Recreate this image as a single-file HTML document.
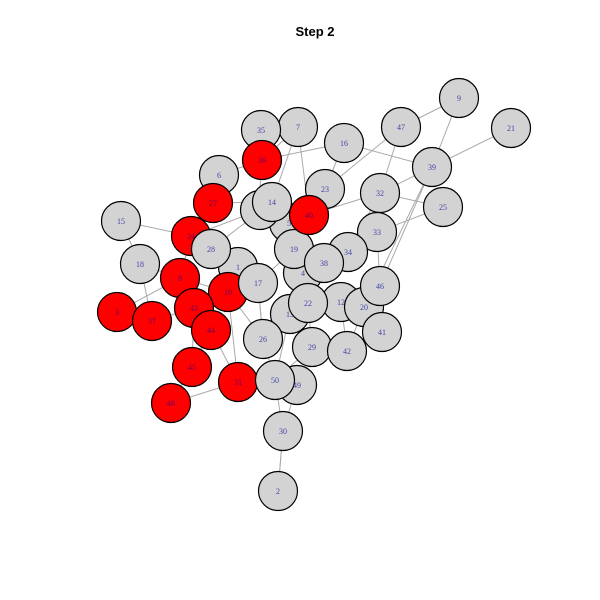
<!DOCTYPE html>
<html><head><meta charset="utf-8"><style>
html,body{margin:0;padding:0;background:#fff;}
svg{display:block;}
</style></head><body>
<svg id="chart" width="600" height="600" viewBox="0 0 600 600" xmlns="http://www.w3.org/2000/svg">
<text x="315" y="36" text-anchor="middle" font-family="Liberation Sans, sans-serif" font-weight="bold" font-size="13">Step 2</text>
<g id="edges"></g>
<g id="nodes"></g>
</svg>
<script>
const nodeIds = [1,2,3,4,5,6,7,8,9,10,11,12,13,14,15,16,17,18,19,20,21,22,23,24,25,26,27,28,29,30,31,32,33,34,35,36,37,38,39,40,41,42,43,44,45,46,47,48,49,50];
const nodeX = [238,278,117,303,289,219,298,180,459,228,260,341,290,272,121,344,258,140,294,364,511,308,325,191,443,263,213,211,312,283,238,380,377,348,261,262,152,324,432,309,382,347,194,211,192,380,401,171,297,275];
const nodeY = [267,491,312,273,223,175,127,278,98,292,210,302,314,202,221,143,283,264,249,307,128,303,189,236,207,339,203,249,347,431,382,193,232,252,130,160,321,263,167,215,332,351,308,330,367,286,127,403,385,380];
const infected = [36,27,24,8,3,37,43,44,45,48,31,10,40];
const edgeFrom = [9,9,21,47,47,16,16,16,39,39,25,25,7,7,30,30,30,48,48,15,15,18,18,3,3,37,43,43,45,45,31,31,31,26,26,26,29,29,12,20,46,46,42,42,34,38,4,19,17,1,28,24,27,27,6,36,36,35,23,40,5,11,14,40,19,22,13,22,17,10,1,26,29,13,5,32,33,28,24,17,12,22,38,39,2];
const edgeTo   = [47,39,39,32,23,39,36,23,32,46,32,33,40,14,2,50,49,31,45,24,18,8,37,37,8,43,8,44,44,43,44,10,50,10,13,50,42,22,20,41,12,33,41,20,38,4,19,17,1,28,24,8,6,14,36,7,35,11,40,5,11,14,19,32,38,13,4,12,10,8,10,17,50,50,19,34,34,14,11,26,42,4,33,20,30];

const SVGNS='http://www.w3.org/2000/svg';
const eg=document.getElementById('edges'), ng=document.getElementById('nodes');
function px(id){return nodeX[nodeIds.indexOf(id)];}
function py(id){return nodeY[nodeIds.indexOf(id)];}
for(let i=0;i<edgeFrom.length;i++){
  const l=document.createElementNS(SVGNS,'line');
  
  
  l.setAttribute('x1',px(edgeFrom[i]));l.setAttribute('y1',py(edgeFrom[i]));
  l.setAttribute('x2',px(edgeTo[i]));l.setAttribute('y2',py(edgeTo[i]));
  l.setAttribute('stroke','#aaaaaa');l.setAttribute('stroke-width','1');
  eg.appendChild(l);
}
for(let i=0;i<nodeIds.length;i++){
  const id=nodeIds[i], red=infected.includes(id);
  const g=document.createElementNS(SVGNS,'g');
  
  
  const c=document.createElementNS(SVGNS,'circle');
  
  
  c.setAttribute('cx',nodeX[i]);c.setAttribute('cy',nodeY[i]);c.setAttribute('r',19.5);
  c.setAttribute('fill',red?'#ff0000':'#d3d3d3');c.setAttribute('stroke','#000');c.setAttribute('stroke-width','1.2');
  g.appendChild(c);
  const t=document.createElementNS(SVGNS,'text');
  
  
  t.setAttribute('x',nodeX[i]);t.setAttribute('y',nodeY[i]+3);
  t.setAttribute('text-anchor','middle');t.setAttribute('font-family','Liberation Serif, serif');
  t.setAttribute('font-size','8');t.setAttribute('fill',red?'#660066':'#4444aa');
  t.textContent=id;
  g.appendChild(t);
  ng.appendChild(g);
}
</script>
</body></html>
